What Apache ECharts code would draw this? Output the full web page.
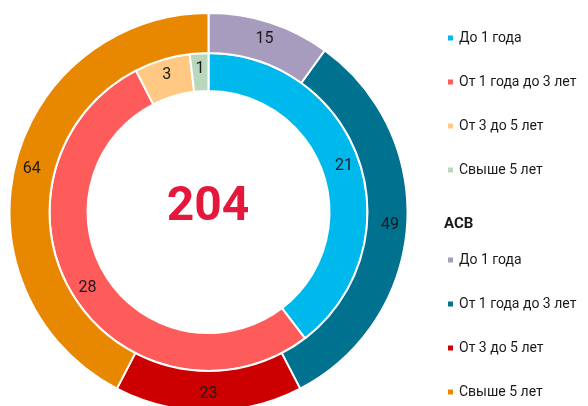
<!DOCTYPE html>
<html>
<head>
<meta charset="utf-8">
<script src="https://cdn.jsdelivr.net/npm/echarts@6/dist/echarts.min.js"></script>
<style>
  html, body { margin: 0; padding: 0; background: #fff; }
  #chart { width: 588px; height: 406px; }
</style>
</head>
<body>
<div id="chart"></div>
<script>
// данные
const ageGroups = ["До 1 года", "От 1 года до 3 лет", "От 3 до 5 лет", "Свыше 5 лет"];
const innerValues = [21, 28, 3, 1];
const asvValues = [15, 49, 23, 64];
const asvTitle = "АСВ";
const totalText = "204";

const innerColors = ["#00b9ec", "#fe5b5b", "#ffc983", "#b8d7bd"];
const outerColors = ["#a79cbe", "#00718f", "#cc0000", "#e88800"];
const font = "Roboto, sans-serif";
const asvPrefix = "АСВ: ";

const innerData = ageGroups.map((n, i) => ({
  name: n,
  value: innerValues[i],
  itemStyle: { color: innerColors[i] },
}));
const outerData = ageGroups.map((n, i) => ({
  name: asvPrefix + n,
  value: asvValues[i],
  itemStyle: { color: outerColors[i] },
}));

const legendBase = {
  orient: "vertical",
  left: 446,
  padding: 0,
  height: 160,
  icon: "rect",
  itemWidth: 7,
  itemHeight: 7,
  itemGap: 28,
  selectedMode: false,
  textStyle: { fontFamily: font, fontSize: 14, color: "#1a1a1a", lineHeight: 16 },
  formatter: (name) => name.replace(asvPrefix, ""),
};

const pieLabel = {
  position: "inside",
  formatter: "{c}",
  fontFamily: font,
  fontSize: 16,
  color: "#1a1a1a",
};

const myChart = echarts.init(document.getElementById("chart"));
myChart.setOption({
  animation: false,
  title: {
    text: asvTitle,
    left: 444,
    top: 217,
    padding: 0,
    textStyle: { fontFamily: font, fontSize: 15, fontWeight: "bold", color: "#1a1a1a" },
  },
  legend: [
    Object.assign({}, legendBase, { top: 30, data: ageGroups }),
    Object.assign({}, legendBase, { top: 252, data: outerData.map((d) => d.name) }),
  ],
  graphic: [
    {
      type: "text",
      x: 208,
      y: 208,
      style: {
        text: totalText,
        align: "center",
        verticalAlign: "middle",
        fontFamily: font,
        fontSize: 48,
        fontWeight: "bold",
        fill: "#e4183c",
      },
    },
  ],
  series: [
    {
      type: "pie",
      center: [208.5, 212],
      radius: [121, 159],
      startAngle: 90,
      clockwise: true,
      avoidLabelOverlap: false,
      itemStyle: { borderColor: "#fff", borderWidth: 2 },
      label: pieLabel,
      labelLine: { show: false },
      emphasis: { disabled: true },
      data: innerData,
    },
    {
      type: "pie",
      center: [208.5, 212],
      radius: [159, 199],
      startAngle: 90,
      clockwise: true,
      avoidLabelOverlap: false,
      itemStyle: { borderColor: "#fff", borderWidth: 2 },
      label: pieLabel,
      labelLine: { show: false },
      emphasis: { disabled: true },
      data: outerData,
    },
  ],
});
</script>
</body>
</html>
